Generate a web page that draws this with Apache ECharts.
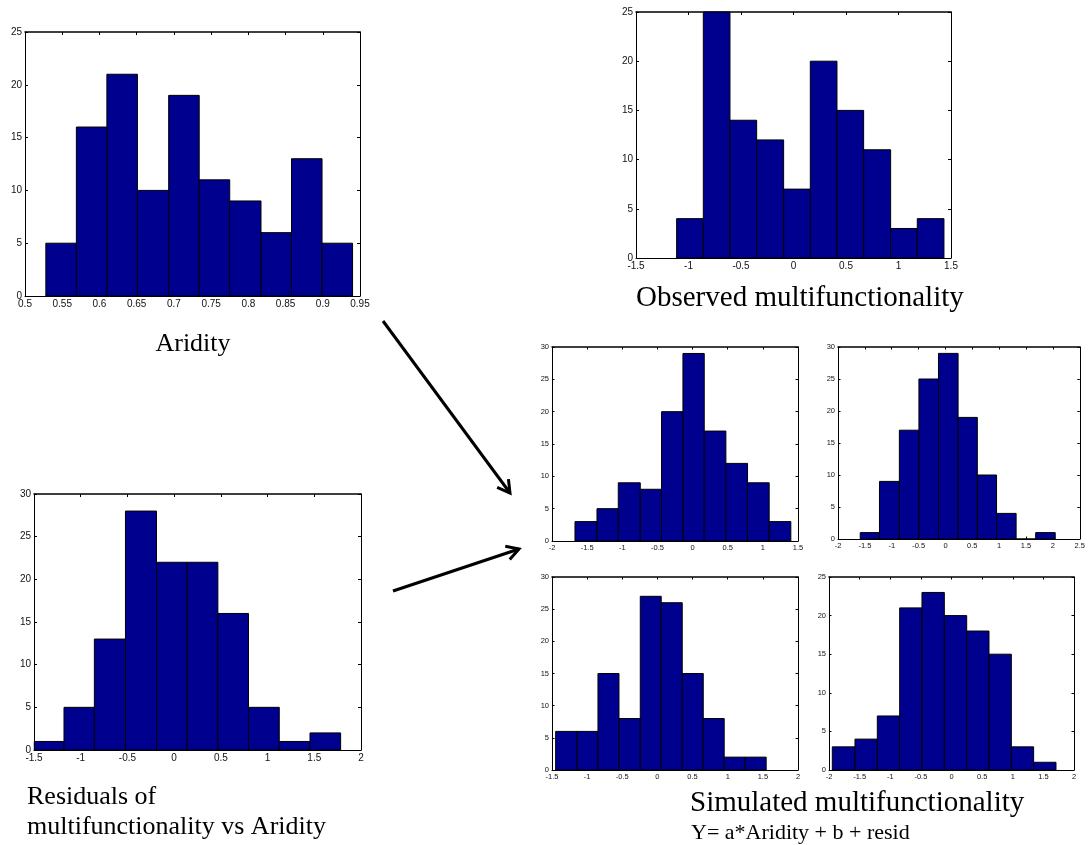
<!DOCTYPE html>
<html><head><meta charset="utf-8">
<script src="https://cdn.jsdelivr.net/npm/echarts@6/dist/echarts.min.js"></script>
<style>html,body{margin:0;padding:0;background:#fff}#c{width:1088px;height:845px}</style>
</head><body><div id="c"></div>
<script>
// ---- data: histogram bin edges and counts ----
const aridityEdges   = [0.528, 0.569, 0.610, 0.651, 0.693, 0.734, 0.775, 0.817, 0.858, 0.899, 0.940];
const aridityCounts  = [5, 16, 21, 10, 19, 11, 9, 6, 13, 5];
const observedEdges  = [-1.113, -0.859, -0.605, -0.351, -0.094, 0.160, 0.414, 0.668, 0.925, 1.179, 1.433];
const observedCounts = [4, 25, 14, 12, 7, 20, 15, 11, 3, 4];
const residEdges     = [-1.497, -1.179, -0.854, -0.521, -0.189, 0.139, 0.468, 0.796, 1.125, 1.454, 1.782];
const residCounts    = [1, 5, 13, 28, 22, 22, 16, 5, 1, 2];
const sim1Edges      = [-1.673, -1.360, -1.057, -0.744, -0.441, -0.137, 0.166, 0.474, 0.782, 1.090, 1.398];
const sim1Counts     = [3, 5, 9, 8, 20, 29, 17, 12, 9, 3];
const sim2Edges      = [-1.586, -1.228, -0.858, -0.494, -0.130, 0.235, 0.593, 0.951, 1.315, 1.679, 2.043];
const sim2Counts     = [1, 9, 17, 25, 29, 19, 10, 4, 0, 1];
const sim3Edges      = [-1.448, -1.145, -0.846, -0.547, -0.244, 0.054, 0.353, 0.652, 0.950, 1.249, 1.547];
const sim3Counts     = [6, 6, 15, 8, 27, 26, 15, 8, 2, 2];
const sim4Edges      = [-1.946, -1.576, -1.211, -0.846, -0.482, -0.117, 0.248, 0.612, 0.977, 1.341, 1.706];
const sim4Counts     = [3, 4, 7, 21, 23, 20, 18, 15, 3, 1];

// axis ranges [min, max, interval]
const aridityX  = [0.5, 0.95, 0.05], aridityY  = [0, 25, 5];
const observedX = [-1.5, 1.5, 0.5],  observedY = [0, 25, 5];
const residX    = [-1.5, 2, 0.5],    residY    = [0, 30, 5];
const sim1X     = [-2, 1.5, 0.5],    sim1Y     = [0, 30, 5];
const sim2X     = [-2, 2.5, 0.5],    sim2Y     = [0, 30, 5];
const sim3X     = [-1.5, 2, 0.5],    sim3Y     = [0, 30, 5];
const sim4X     = [-2, 2, 0.5],      sim4Y     = [0, 25, 5];

// titles
const titleAridity   = 'Aridity';
const titleObserved  = 'Observed multifunctionality';
const titleResid1    = 'Residuals of';
const titleResid2    = 'multifunctionality vs Aridity';
const titleSimulated = 'Simulated multifunctionality';
const titleFormula   = 'Y= a*Aridity + b + resid';

// ---- layout (positions / styles) ----
const panels = [
  {edges: aridityEdges,  counts: aridityCounts,  xr: aridityX,  yr: aridityY,  box: {left: 25,  top: 32,  width: 335, height: 264}, fs: 10, tick: 3},
  {edges: observedEdges, counts: observedCounts, xr: observedX, yr: observedY, box: {left: 636, top: 12,  width: 315, height: 246}, fs: 10, tick: 3},
  {edges: residEdges,    counts: residCounts,    xr: residX,    yr: residY,    box: {left: 34,  top: 494, width: 327, height: 256}, fs: 10, tick: 3},
  {edges: sim1Edges,     counts: sim1Counts,     xr: sim1X,     yr: sim1Y,     box: {left: 552, top: 347, width: 246, height: 194}, fs: 7.5, tick: 2.5},
  {edges: sim2Edges,     counts: sim2Counts,     xr: sim2X,     yr: sim2Y,     box: {left: 838, top: 347, width: 243, height: 192}, fs: 7.5, tick: 2.5},
  {edges: sim3Edges,     counts: sim3Counts,     xr: sim3X,     yr: sim3Y,     box: {left: 552, top: 577, width: 246, height: 193}, fs: 7.5, tick: 2.5},
  {edges: sim4Edges,     counts: sim4Counts,     xr: sim4X,     yr: sim4Y,     box: {left: 829, top: 577, width: 245, height: 193}, fs: 7.5, tick: 2.5}
];

const BAR = '#00008F';
const SANS = '"Liberation Sans", Arial, sans-serif';
const SERIF = '"Liberation Serif", "Times New Roman", serif';
const fmt = v => String(+v.toFixed(2));

const grid = [], xAxis = [], yAxis = [], series = [];
panels.forEach((p, i) => {
  grid.push(Object.assign({containLabel: false}, p.box));
  const lineStyle = {color: '#000', width: 1};
  const tickStyle = {show: true, inside: true, length: p.tick, lineStyle: {color: '#000', width: 1}};
  const label = {show: true, fontSize: p.fs, color: '#111', fontFamily: SANS, formatter: fmt, margin: 3};
  xAxis.push({gridIndex: i, type: 'value', position: 'bottom', min: p.xr[0], max: p.xr[1], interval: p.xr[2],
    axisLine: {show: true, onZero: false, lineStyle}, axisTick: tickStyle, axisLabel: label, splitLine: {show: false}});
  xAxis.push({gridIndex: i, type: 'value', position: 'top', min: p.xr[0], max: p.xr[1], interval: p.xr[2],
    axisLine: {show: true, onZero: false, lineStyle: {color: '#000', width: 1.5}}, axisTick: tickStyle, axisLabel: {show: false}, splitLine: {show: false}});
  yAxis.push({gridIndex: i, type: 'value', position: 'left', min: p.yr[0], max: p.yr[1], interval: p.yr[2],
    axisLine: {show: true, onZero: false, lineStyle}, axisTick: tickStyle, axisLabel: Object.assign({}, label, {margin: 3}), splitLine: {show: false}});
  yAxis.push({gridIndex: i, type: 'value', position: 'right', min: p.yr[0], max: p.yr[1], interval: p.yr[2],
    axisLine: {show: true, onZero: false, lineStyle}, axisTick: tickStyle, axisLabel: {show: false}, splitLine: {show: false}});
  const data = p.counts.map((c, k) => [p.edges[k], p.edges[k + 1], c]);
  series.push({
    type: 'custom', xAxisIndex: 2 * i, yAxisIndex: 2 * i, data, silent: true,
    encode: {x: [0, 1], y: 2},
    renderItem: (params, api) => {
      const a = api.coord([api.value(0), api.value(2)]);
      const b = api.coord([api.value(1), 0]);
      return {type: 'rect', shape: {x: a[0], y: a[1], width: b[0] - a[0], height: b[1] - a[1]},
        style: {fill: BAR, stroke: '#000', lineWidth: 1}};
    }
  });
});

function arrow(x1, y1, x2, y2) {
  const dx = x2 - x1, dy = y2 - y1, L = Math.hypot(dx, dy);
  const ux = -dx / L, uy = -dy / L, h = 14, ang = Math.PI / 6;
  const c = Math.cos(ang), s = Math.sin(ang);
  const pA = [x2 + h * (ux * c - uy * s), y2 + h * (ux * s + uy * c)];
  const pB = [x2 + h * (ux * c + uy * s), y2 + h * (-ux * s + uy * c)];
  return [
    {type: 'line', shape: {x1, y1, x2, y2}, style: {stroke: '#000', lineWidth: 3}, silent: true},
    {type: 'polyline', shape: {points: [pA, [x2, y2], pB]}, style: {stroke: '#000', lineWidth: 3, fill: null}, silent: true}
  ];
}
function txt(text, x, y, size, align) {
  return {type: 'text', x, y, silent: true,
    style: {text, fontSize: size, fontFamily: SERIF, fill: '#000', textAlign: align, textVerticalAlign: 'middle', verticalAlign: 'middle'}};
}

const graphic = [].concat(
  arrow(383, 321, 510, 493),
  arrow(393, 591, 519, 549),
  [
    txt(titleAridity, 193, 344, 26, 'center'),
    txt(titleObserved, 636, 298, 29, 'left'),
    txt(titleResid1, 27, 797, 26, 'left'),
    txt(titleResid2, 27, 827, 26, 'left'),
    txt(titleSimulated, 690, 803, 29, 'left'),
    txt(titleFormula, 691, 833, 22, 'left')
  ]
);

const chart = echarts.init(document.getElementById('c'), null, {renderer: 'canvas'});
chart.setOption({animation: false, backgroundColor: '#fff', grid, xAxis, yAxis, series, graphic});
</script>
</body></html>
